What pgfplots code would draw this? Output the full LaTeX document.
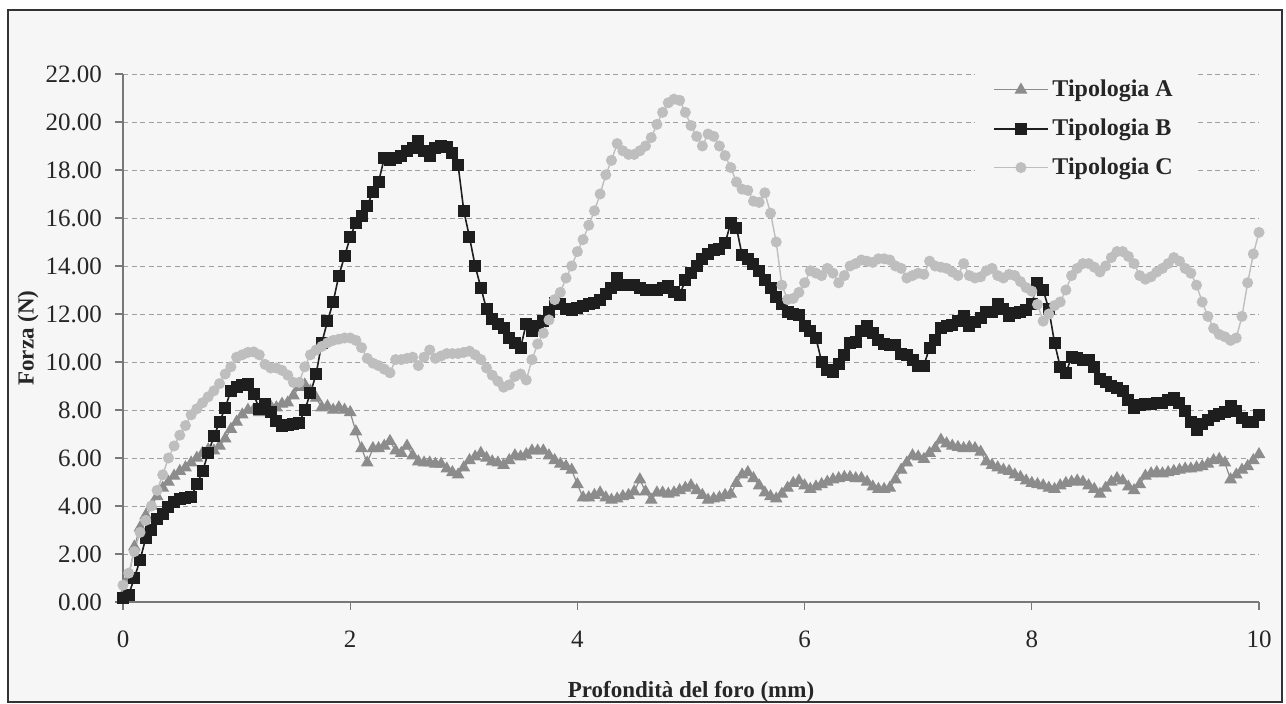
\documentclass[border=0pt]{standalone}
\usepackage{pgfplots}
\pgfplotsset{compat=1.18}
\usepackage{fontspec}
\setmainfont{Liberation Serif}
\definecolor{bgc}{RGB}{246,246,246}
\definecolor{colA}{RGB}{140,140,140}
\definecolor{colB}{RGB}{30,30,30}
\definecolor{colC}{RGB}{190,190,190}
\definecolor{axc}{RGB}{120,120,120}
\begin{document}
\begin{tikzpicture}
\useasboundingbox (0,0) rectangle (643pt,352pt);
\fill[white] (0,0) rectangle (643pt,352pt);
\draw[fill=bgc, draw=black!80, line width=0.6pt] (4pt,1pt) rectangle (641pt,347pt);
\begin{axis}[
  at={(61.5pt,51pt)}, anchor=south west,
  scale only axis, width=568pt, height=264pt,
  xmin=0, xmax=10, ymin=0, ymax=22,
  clip=false,
  axis lines*=left,
  axis line style={draw=axc, line width=0.7pt},
  xtick={0,2,...,10}, ytick={0,2,...,22},
  tick align=outside, major tick length=4pt,
  tick style={draw=axc, line width=0.6pt},
  ymajorgrids,
  major grid style={dash pattern=on 2.5pt off 1.8pt, draw=gray!75, line width=0.45pt},
  /pgf/number format/assume math mode=true,
  yticklabel style={/pgf/number format/fixed, /pgf/number format/fixed zerofill, /pgf/number format/precision=2, font=\fontsize{12.5}{14}\selectfont, text=black!85, xshift=-3pt},
  xticklabel style={font=\fontsize{12.5}{14}\selectfont, text=black!85, yshift=-7pt},
  every axis x label/.style={at={(axis description cs:0.5,-0.17)}, anchor=center},
  every axis y label/.style={at={(axis description cs:-0.0836,0.5)}, anchor=center, rotate=90},
  xlabel={\textbf{Profondità del foro (mm)}},
  ylabel={\textbf{Forza (N)}},
  label style={font=\fontsize{11.5}{13}\selectfont, text=black!85},
  legend style={at={(0.75,1.012)}, anchor=north west, fill=bgc, draw=none,
    font=\fontsize{12}{13.5}\selectfont\bfseries, text=black!85,
    row sep=5.6pt, inner xsep=9pt, inner ysep=4pt},
  legend cell align=left,
  legend image code/.code={\draw[mark repeat=2,mark phase=2] plot coordinates {(0cm,0cm)(0.47cm,0cm)(0.94cm,0cm)};},
]
\addplot[colA, line width=0.6pt, mark=triangle*, mark size=3.1pt, mark options={fill=colA, draw=colA}] table {
x y
0.00 0.3
0.05 1.0
0.10 2.3
0.15 3.1
0.20 3.6
0.25 4.0
0.30 4.4
0.35 4.75
0.40 5.0
0.45 5.25
0.50 5.45
0.55 5.6
0.60 5.8
0.65 6.0
0.70 6.2
0.75 6.35
0.80 6.3
0.85 6.5
0.90 6.8
0.95 7.2
1.00 7.5
1.05 7.8
1.10 8.0
1.15 8.0
1.20 7.9
1.25 8.1
1.30 8.15
1.35 8.1
1.40 8.25
1.45 8.3
1.50 8.6
1.55 8.95
1.60 9.05
1.65 8.8
1.70 8.5
1.75 8.1
1.80 8.15
1.85 8.0
1.90 8.1
1.95 8.0
2.00 7.9
2.05 7.1
2.10 6.4
2.15 5.8
2.20 6.4
2.25 6.4
2.30 6.5
2.35 6.7
2.40 6.3
2.45 6.2
2.50 6.5
2.55 6.1
2.60 5.85
2.65 5.8
2.70 5.8
2.75 5.75
2.80 5.75
2.85 5.55
2.90 5.4
2.95 5.3
3.00 5.6
3.05 5.9
3.10 6.05
3.15 6.2
3.20 6.0
3.25 5.85
3.30 5.8
3.35 5.7
3.40 5.9
3.45 6.1
3.50 6.05
3.55 6.15
3.60 6.3
3.65 6.3
3.70 6.3
3.75 6.1
3.80 5.9
3.85 5.75
3.90 5.65
3.95 5.5
4.00 4.9
4.05 4.35
4.10 4.35
4.15 4.45
4.20 4.55
4.25 4.35
4.30 4.25
4.35 4.3
4.40 4.4
4.45 4.45
4.50 4.6
4.55 5.1
4.60 4.6
4.65 4.25
4.70 4.55
4.75 4.55
4.80 4.5
4.85 4.55
4.90 4.65
4.95 4.75
5.00 4.85
5.05 4.65
5.10 4.45
5.15 4.25
5.20 4.3
5.25 4.35
5.30 4.45
5.35 4.5
5.40 4.95
5.45 5.3
5.50 5.4
5.55 5.15
5.60 4.85
5.65 4.55
5.70 4.4
5.75 4.3
5.80 4.5
5.85 4.75
5.90 4.95
5.95 5.05
6.00 4.85
6.05 4.7
6.10 4.8
6.15 4.9
6.20 5.0
6.25 5.1
6.30 5.15
6.35 5.2
6.40 5.2
6.45 5.15
6.50 5.15
6.55 5.0
6.60 4.8
6.65 4.7
6.70 4.7
6.75 4.75
6.80 5.1
6.85 5.5
6.90 5.8
6.95 6.1
7.00 6.05
7.05 5.95
7.10 6.2
7.15 6.4
7.20 6.75
7.25 6.6
7.30 6.5
7.35 6.45
7.40 6.4
7.45 6.45
7.50 6.4
7.55 6.25
7.60 5.85
7.65 5.7
7.70 5.6
7.75 5.5
7.80 5.45
7.85 5.3
7.90 5.2
7.95 5.05
8.00 4.95
8.05 4.9
8.10 4.85
8.15 4.75
8.20 4.7
8.25 4.85
8.30 4.95
8.35 5.0
8.40 5.05
8.45 5.0
8.50 4.85
8.55 4.7
8.60 4.5
8.65 4.75
8.70 5.0
8.75 5.15
8.80 5.05
8.85 4.8
8.90 4.65
8.95 4.9
9.00 5.25
9.05 5.35
9.10 5.4
9.15 5.35
9.20 5.4
9.25 5.45
9.30 5.5
9.35 5.55
9.40 5.55
9.45 5.6
9.50 5.65
9.55 5.75
9.60 5.9
9.65 5.95
9.70 5.8
9.75 5.1
9.80 5.3
9.85 5.5
9.90 5.65
9.95 5.9
10.00 6.15
};
\addlegendentry{Tipologia A}
\addplot[colB, line width=0.8pt, mark=square*, mark size=2.6pt, mark options={fill=colB, draw=colB}] table {
x y
0.00 0.15
0.05 0.3
0.10 1.0
0.15 1.75
0.20 2.65
0.25 3.0
0.30 3.45
0.35 3.65
0.40 3.95
0.45 4.15
0.50 4.3
0.55 4.35
0.60 4.38
0.65 4.9
0.70 5.45
0.75 6.2
0.80 6.9
0.85 7.5
0.90 8.1
0.95 8.8
1.00 8.95
1.05 9.05
1.10 9.1
1.15 8.65
1.20 8.05
1.25 8.25
1.30 7.9
1.35 7.55
1.40 7.35
1.45 7.38
1.50 7.4
1.55 7.45
1.60 8.0
1.65 8.7
1.70 9.5
1.75 10.8
1.80 11.7
1.85 12.5
1.90 13.6
1.95 14.4
2.00 15.2
2.05 15.8
2.10 16.1
2.15 16.5
2.20 17.1
2.25 17.5
2.30 18.5
2.35 18.4
2.40 18.5
2.45 18.6
2.50 18.8
2.55 18.9
2.60 19.2
2.65 18.8
2.70 18.6
2.75 18.9
2.80 19.0
2.85 18.95
2.90 18.7
2.95 18.2
3.00 16.3
3.05 15.2
3.10 14.0
3.15 13.1
3.20 12.2
3.25 11.8
3.30 11.6
3.35 11.4
3.40 11.0
3.45 10.8
3.50 10.6
3.55 11.6
3.60 11.3
3.65 11.5
3.70 11.7
3.75 12.1
3.80 12.45
3.85 12.4
3.90 12.2
3.95 12.15
4.00 12.25
4.05 12.35
4.10 12.4
4.15 12.45
4.20 12.6
4.25 12.85
4.30 13.1
4.35 13.5
4.40 13.2
4.45 13.2
4.50 13.2
4.55 13.1
4.60 13.0
4.65 13.0
4.70 13.0
4.75 13.1
4.80 13.15
4.85 12.9
4.90 12.8
4.95 13.4
5.00 13.7
5.05 14.0
5.10 14.3
5.15 14.5
5.20 14.65
5.25 14.7
5.30 14.95
5.35 15.8
5.40 15.6
5.45 14.45
5.50 14.3
5.55 14.1
5.60 13.8
5.65 13.4
5.70 13.1
5.75 12.7
5.80 12.4
5.85 12.1
5.90 12.0
5.95 11.95
6.00 11.5
6.05 11.3
6.10 11.0
6.15 10.0
6.20 9.65
6.25 9.6
6.30 9.9
6.35 10.3
6.40 10.8
6.45 10.85
6.50 11.3
6.55 11.5
6.60 11.2
6.65 10.9
6.70 10.75
6.75 10.7
6.80 10.7
6.85 10.35
6.90 10.3
6.95 10.1
7.00 9.85
7.05 9.85
7.10 10.6
7.15 10.9
7.20 11.4
7.25 11.5
7.30 11.55
7.35 11.7
7.40 11.9
7.45 11.5
7.50 11.65
7.55 11.85
7.60 12.1
7.65 12.1
7.70 12.4
7.75 12.2
7.80 11.9
7.85 12.05
7.90 12.1
7.95 12.15
8.00 12.4
8.05 13.3
8.10 13.0
8.15 12.2
8.20 10.8
8.25 9.8
8.30 9.55
8.35 10.2
8.40 10.15
8.45 10.1
8.50 10.1
8.55 9.8
8.60 9.3
8.65 9.15
8.70 9.0
8.75 8.9
8.80 8.8
8.85 8.4
8.90 8.1
8.95 8.2
9.00 8.25
9.05 8.25
9.10 8.3
9.15 8.3
9.20 8.4
9.25 8.5
9.30 8.3
9.35 7.95
9.40 7.5
9.45 7.15
9.50 7.4
9.55 7.6
9.60 7.75
9.65 7.85
9.70 7.9
9.75 8.15
9.80 7.95
9.85 7.65
9.90 7.5
9.95 7.5
10.00 7.8
};
\addlegendentry{Tipologia B}
\addplot[colC, line width=0.7pt, mark=*, mark size=2.4pt, mark options={fill=colC, draw=colC}] table {
x y
0.00 0.7
0.05 1.2
0.10 2.1
0.15 2.9
0.20 3.4
0.25 4.0
0.30 4.65
0.35 5.3
0.40 6.0
0.45 6.5
0.50 6.95
0.55 7.35
0.60 7.8
0.65 8.05
0.70 8.3
0.75 8.55
0.80 8.8
0.85 9.1
0.90 9.5
0.95 9.8
1.00 10.2
1.05 10.3
1.10 10.4
1.15 10.42
1.20 10.3
1.25 9.9
1.30 9.75
1.35 9.75
1.40 9.65
1.45 9.45
1.50 9.15
1.55 9.15
1.60 9.8
1.65 10.3
1.70 10.5
1.75 10.65
1.80 10.8
1.85 10.9
1.90 10.95
1.95 11.0
2.00 11.0
2.05 10.9
2.10 10.6
2.15 10.15
2.20 9.95
2.25 9.85
2.30 9.7
2.35 9.55
2.40 10.1
2.45 10.1
2.50 10.15
2.55 10.2
2.60 9.85
2.65 10.2
2.70 10.5
2.75 10.15
2.80 10.25
2.85 10.35
2.90 10.35
2.95 10.35
3.00 10.4
3.05 10.45
3.10 10.3
3.15 10.1
3.20 9.75
3.25 9.45
3.30 9.2
3.35 8.95
3.40 9.05
3.45 9.4
3.50 9.5
3.55 9.25
3.60 10.1
3.65 10.75
3.70 11.2
3.75 11.75
3.80 12.6
3.85 12.9
3.90 13.5
3.95 14.0
4.00 14.6
4.05 15.1
4.10 15.7
4.15 16.3
4.20 17.0
4.25 17.8
4.30 18.4
4.35 19.1
4.40 18.8
4.45 18.65
4.50 18.65
4.55 18.8
4.60 19.0
4.65 19.35
4.70 19.9
4.75 20.4
4.80 20.8
4.85 20.95
4.90 20.9
4.95 20.4
5.00 19.85
5.05 19.4
5.10 19.0
5.15 19.5
5.20 19.4
5.25 19.0
5.30 18.6
5.35 18.1
5.40 17.5
5.45 17.2
5.50 17.15
5.55 16.7
5.60 16.65
5.65 17.05
5.70 16.2
5.75 15.0
5.80 13.2
5.85 12.6
5.90 12.65
5.95 12.9
6.00 13.3
6.05 13.8
6.10 13.7
6.15 13.6
6.20 13.9
6.25 13.7
6.30 13.3
6.35 13.6
6.40 14.0
6.45 14.1
6.50 14.25
6.55 14.2
6.60 14.15
6.65 14.3
6.70 14.3
6.75 14.25
6.80 14.0
6.85 13.9
6.90 13.5
6.95 13.6
7.00 13.7
7.05 13.65
7.10 14.2
7.15 14.0
7.20 13.95
7.25 13.9
7.30 13.75
7.35 13.6
7.40 14.1
7.45 13.6
7.50 13.5
7.55 13.55
7.60 13.8
7.65 13.9
7.70 13.6
7.75 13.5
7.80 13.65
7.85 13.6
7.90 13.35
7.95 13.1
8.00 12.95
8.05 12.4
8.10 11.7
8.15 12.0
8.20 12.35
8.25 12.5
8.30 13.0
8.35 13.6
8.40 13.9
8.45 14.1
8.50 14.1
8.55 13.95
8.60 13.75
8.65 14.0
8.70 14.35
8.75 14.6
8.80 14.6
8.85 14.4
8.90 14.1
8.95 13.6
9.00 13.45
9.05 13.55
9.10 13.75
9.15 13.9
9.20 14.1
9.25 14.35
9.30 14.2
9.35 13.9
9.40 13.7
9.45 13.2
9.50 12.5
9.55 11.9
9.60 11.4
9.65 11.15
9.70 11.05
9.75 10.9
9.80 11.0
9.85 11.9
9.90 13.3
9.95 14.5
10.00 15.4
};
\addlegendentry{Tipologia C}
\end{axis}
\end{tikzpicture}
\end{document}
